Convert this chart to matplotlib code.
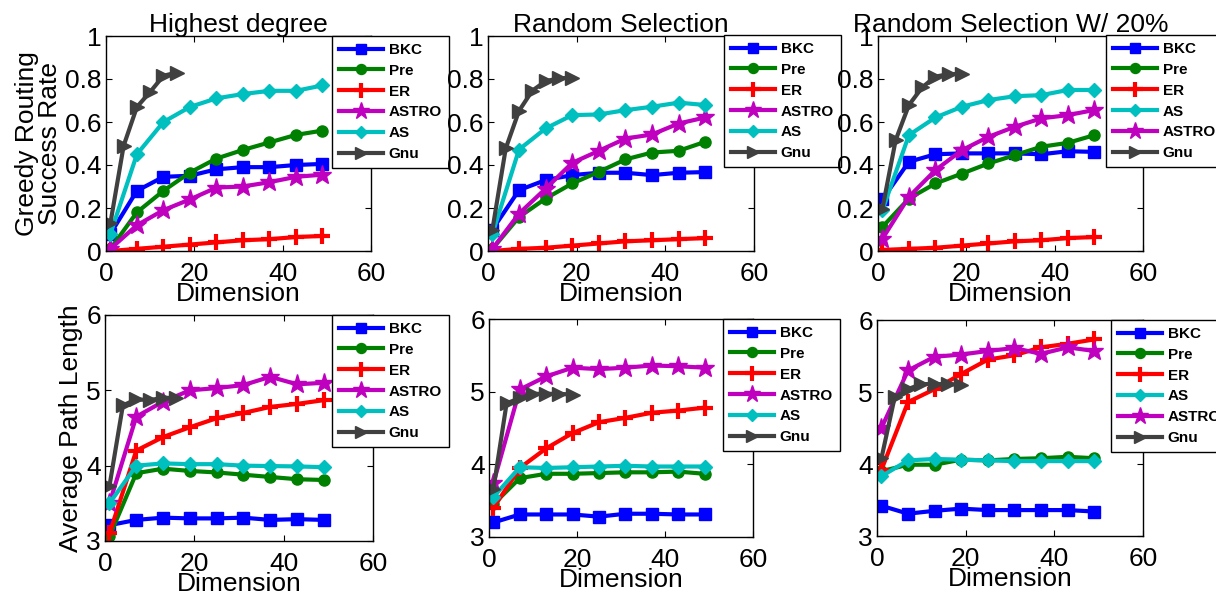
import matplotlib
matplotlib.use("Agg")
import matplotlib.pyplot as plt

plt.rcParams['font.family'] = ['Liberation Sans', 'DejaVu Sans']

# x positions (dimension)
dims = [1, 7, 13, 19, 25, 31, 37, 43, 49]
dims_gnu_short = [1, 4, 7, 10, 13, 16]
dims_gnu = [1, 4, 7, 10, 13, 16, 19]

titles = ["Highest degree", "Random Selection", "Random Selection W/ 20%"]

# --- greedy routing success rate (top row) ---
sr_hd = {
    "BKC": [0.08, 0.28, 0.345, 0.35, 0.38, 0.39, 0.39, 0.40, 0.405],
    "Pre": [0.01, 0.18, 0.28, 0.365, 0.43, 0.47, 0.505, 0.54, 0.56],
    "ER": [0.0, 0.01, 0.02, 0.03, 0.04, 0.05, 0.055, 0.065, 0.07],
    "ASTRO": [0.01, 0.12, 0.19, 0.24, 0.295, 0.30, 0.32, 0.345, 0.355],
    "AS": [0.08, 0.45, 0.60, 0.67, 0.71, 0.73, 0.745, 0.745, 0.77],
    "Gnu": [0.13, 0.49, 0.67, 0.74, 0.815, 0.83],
}
sr_rs = {
    "BKC": [0.10, 0.283, 0.33, 0.353, 0.364, 0.364, 0.353, 0.364, 0.367],
    "Pre": [0.01, 0.158, 0.244, 0.314, 0.368, 0.426, 0.458, 0.466, 0.508],
    "ER": [0.0, 0.01, 0.015, 0.025, 0.035, 0.045, 0.05, 0.055, 0.06],
    "ASTRO": [0.01, 0.174, 0.29, 0.41, 0.466, 0.523, 0.542, 0.593, 0.621],
    "AS": [0.08, 0.472, 0.57, 0.632, 0.635, 0.655, 0.671, 0.69, 0.679],
    "Gnu": [0.10, 0.477, 0.652, 0.746, 0.79, 0.803, 0.806],
}
sr_rs20 = {
    "BKC": [0.24, 0.415, 0.45, 0.454, 0.454, 0.454, 0.45, 0.464, 0.461],
    "Pre": [0.112, 0.244, 0.314, 0.36, 0.407, 0.446, 0.485, 0.503, 0.539],
    "ER": [0.005, 0.01, 0.015, 0.025, 0.035, 0.045, 0.05, 0.06, 0.065],
    "AS": [0.19, 0.539, 0.621, 0.671, 0.702, 0.72, 0.725, 0.749, 0.749],
    "ASTRO": [0.057, 0.252, 0.376, 0.469, 0.531, 0.578, 0.617, 0.632, 0.656],
    "Gnu": [0.197, 0.516, 0.679, 0.761, 0.811, 0.823, 0.823],
}

# --- average path length (bottom row) ---
pl_hd = {
    "BKC": [3.21, 3.28, 3.31, 3.30, 3.30, 3.31, 3.28, 3.29, 3.28],
    "Pre": [3.06, 3.90, 3.96, 3.93, 3.91, 3.88, 3.85, 3.82, 3.81],
    "ER": [3.10, 4.20, 4.38, 4.51, 4.63, 4.70, 4.78, 4.82, 4.87],
    "ASTRO": [3.50, 4.65, 4.85, 5.0, 5.03, 5.07, 5.18, 5.08, 5.10],
    "AS": [3.50, 4.0, 4.03, 4.02, 4.02, 4.0, 3.995, 3.99, 3.98],
    "Gnu": [3.73, 4.80, 4.88, 4.87, 4.90, 4.90],
}
pl_rs = {
    "BKC": [3.20, 3.31, 3.31, 3.31, 3.28, 3.32, 3.32, 3.31, 3.31],
    "Pre": [3.45, 3.81, 3.87, 3.87, 3.88, 3.89, 3.89, 3.90, 3.87],
    "ER": [3.40, 3.95, 4.22, 4.43, 4.58, 4.64, 4.71, 4.74, 4.78],
    "ASTRO": [3.74, 5.03, 5.21, 5.33, 5.31, 5.33, 5.36, 5.35, 5.33],
    "AS": [3.55, 3.96, 3.95, 3.96, 3.97, 3.98, 3.97, 3.97, 3.97],
    "Gnu": [3.66, 4.84, 4.91, 4.97, 4.97, 4.97, 4.96],
}
pl_rs20 = {
    "BKC": [3.42, 3.31, 3.35, 3.38, 3.36, 3.36, 3.36, 3.36, 3.34],
    "Pre": [3.90, 3.99, 3.99, 4.06, 4.05, 4.07, 4.08, 4.10, 4.08],
    "ER": [3.92, 4.86, 5.04, 5.25, 5.45, 5.51, 5.62, 5.67, 5.73],
    "AS": [3.83, 4.05, 4.07, 4.06, 4.05, 4.04, 4.04, 4.04, 4.04],
    "ASTRO": [4.50, 5.30, 5.49, 5.52, 5.57, 5.61, 5.53, 5.62, 5.57],
    "Gnu": [4.08, 4.93, 5.04, 5.11, 5.11, 5.11, 5.10],
}

styles = {
    "BKC": dict(color=(0, 0, 1), marker="s", ms=8),
    "Pre": dict(color=(0, 0.5, 0), marker="o", ms=8),
    "ER": dict(color=(1, 0, 0), marker="+", ms=12, mew=3),
    "ASTRO": dict(color=(0.75, 0, 0.75), marker="*", ms=14),
    "AS": dict(color=(0, 0.75, 0.75), marker="D", ms=7),
    "Gnu": dict(color=(0.25, 0.25, 0.25), marker=">", ms=10),
}

W, H = 1216, 601
fig = plt.figure(figsize=(W / 100, H / 100), dpi=100)

# axes boxes in pixels: left, right, top, bottom
boxes = [
    (106, 371, 36, 251), (488, 754, 36, 251), (878, 1143, 36, 251),
    (105, 373, 315, 541), (489, 753, 319, 537), (877, 1143, 320, 536),
]
# legend top-left corners in pixels
leg_pos = [(332, 36), (724, 35), (1106, 35), (332, 315), (723, 319), (1111, 320)]

panels = [
    (sr_hd, dims_gnu_short), (sr_rs, dims_gnu), (sr_rs20, dims_gnu),
    (pl_hd, dims_gnu_short), (pl_rs, dims_gnu), (pl_rs20, dims_gnu),
]

for i, ((data, gx), (l, r, t, b)) in enumerate(zip(panels, boxes)):
    ax = fig.add_axes([l / W, 1 - b / H, (r - l) / W, (b - t) / H])
    for name, vals in data.items():
        xs = gx if name == "Gnu" else dims
        st = dict(styles[name])
        ax.plot(xs, vals, label=name, lw=3, mec=st["color"], **st)
    ax.set_xlim(0, 60)
    ax.set_xticks([0, 20, 40, 60])
    if i < 3:
        ax.set_ylim(0, 1)
        ax.set_yticks([0, 0.2, 0.4, 0.6, 0.8, 1])
        ax.set_yticklabels(["0", "0.2", "0.4", "0.6", "0.8", "1"])
        ax.set_title(titles[i], fontsize=19, pad=3)
    else:
        ax.set_ylim(3, 6)
        ax.set_yticks([3, 4, 5, 6])
    ax.tick_params(direction="in", top=True, right=True, labelsize=19,
                   length=4, width=0.8)
    ax.tick_params(axis="x", pad=8)
    ax.tick_params(axis="y", pad=3)
    ax.set_xlabel("Dimension", fontsize=19, labelpad=-3)
    if i == 0:
        ax.set_ylabel("Greedy Routing\nSuccess Rate", fontsize=19,
                      linespacing=0.95, labelpad=2)
    if i == 3:
        ax.set_ylabel("Average Path Length", fontsize=19, labelpad=2)
    for sp in ax.spines.values():
        sp.set_linewidth(1)
    lx, ly = leg_pos[i]
    leg = ax.legend(loc="upper left", bbox_to_anchor=(lx / W, 1 - ly / H),
                    bbox_transform=fig.transFigure,
                    prop=dict(weight="bold", size=11), fancybox=False,
                    edgecolor="black", framealpha=1, borderaxespad=0,
                    handlelength=2.9, labelspacing=0.45, borderpad=0.45,
                    handletextpad=0.35, markerscale=0.9)
    leg.get_frame().set_linewidth(1)

fig.savefig("out.png", dpi=100)
